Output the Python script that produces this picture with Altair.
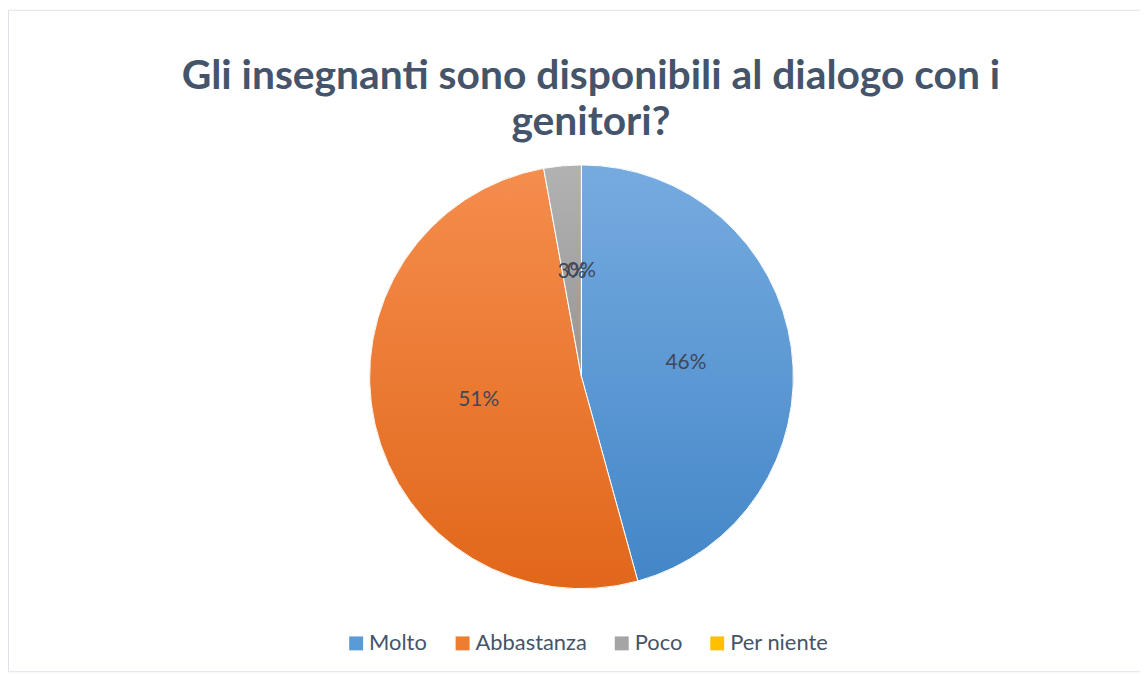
import altair as alt
import pandas as pd

categories = ["Molto", "Abbastanza", "Poco", "Per niente"]
counts = [16, 18, 1, 0]
percent_labels = ["46%", "51%", "3%", "0%"]
colors = ["#5b9bd5", "#ed7d31", "#a5a5a5", "#ffc000"]
grad_top = ["#76abe0", "#f58d4d", "#b2b2b2", "#ffcc33"]
grad_bottom = ["#4386c7", "#e1671a", "#969696", "#e6ac00"]

df = pd.DataFrame({
    "cat": categories,
    "value": counts,
    "label": percent_labels,
    "order": list(range(len(categories))),
})


def grad(top, bottom):
    return {
        "gradient": "linear",
        "x1": 0, "y1": 0, "x2": 0, "y2": 1,
        "stops": [{"offset": 0, "color": top}, {"offset": 1, "color": bottom}],
    }


fill = alt.when(alt.datum.cat == categories[0]).then(alt.value(grad(grad_top[0], grad_bottom[0])))
for i in range(1, len(categories) - 1):
    fill = fill.when(alt.datum.cat == categories[i]).then(alt.value(grad(grad_top[i], grad_bottom[i])))
fill = fill.otherwise(alt.value(grad(grad_top[-1], grad_bottom[-1])))

CX, CY, R = 576.5, 369, 213

base = alt.Chart(df).encode(
    theta=alt.Theta("value:Q", stack=True),
    order=alt.Order("order:Q"),
    x=alt.value(CX),
    y=alt.value(CY),
)

legend_layer = base.mark_arc(outerRadius=R).encode(
    color=alt.Color(
        "cat:N",
        scale=alt.Scale(domain=categories, range=colors),
        legend=alt.Legend(
            title=None,
            orient="none",
            legendX=339,
            legendY=626,
            direction="horizontal",
            symbolType="square",
            symbolSize=196,
            symbolStrokeWidth=0,
            labelFontSize=22,
            labelFont="Lato",
            labelColor="#44546a",
            columnPadding=24,
            labelOffset=2,
        ),
    )
)

grad_layer = base.mark_arc(outerRadius=R, stroke="white", strokeWidth=1).encode(fill=fill)

text_layer = base.mark_text(radius=106, fontSize=21, font="Lato", color="#404858").encode(
    text="label:N"
)

chart = alt.layer(legend_layer, grad_layer, text_layer).properties(
    width=1138,
    height=665,
    autosize=alt.AutoSizeParams(type="none"),
    padding=0,
    title=alt.Title(
        ["Gli insegnanti sono disponibili al dialogo con i", "genitori?"],
        fontSize=41,
        font="Lato",
        fontWeight="bold",
        color="#44546a",
        anchor="middle",
        offset=-135,
        lineHeight=46,
        dx=17,
    ),
).configure_view(stroke="#dde1e8", strokeWidth=1)

chart.save("out.html", embed_options={"renderer": "svg", "actions": False})
